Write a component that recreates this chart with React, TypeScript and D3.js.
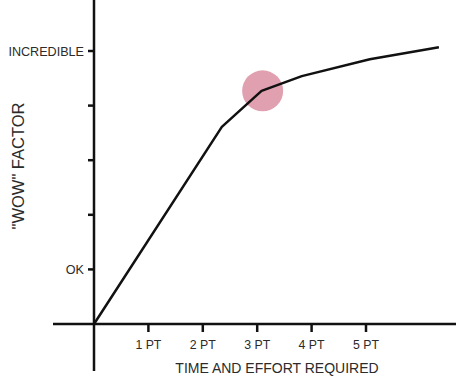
import React from "react";
import * as d3 from "d3";

const xTickValues = [1, 2, 3, 4, 5];
const xTickLabels = ["1 PT", "2 PT", "3 PT", "4 PT", "5 PT"];
const yTickValues = [1, 2, 3, 4, 5];
const yTickLabels = ["OK", "", "", "", "INCREDIBLE"];
const curveX = [0, 2.35, 3.08, 3.82, 5.07, 6.34];
const curveY = [0, 3.61, 4.27, 4.54, 4.85, 5.07];
const highlight = { x: 3.1, y: 4.27 };

const W = 456;
const H = 381;
const FONT = "'Liberation Sans', Arial, Helvetica, sans-serif";
const TEXT = "#2b2b2b";

export default function App() {
  const x = d3.scaleLinear().domain([0, 5]).range([94, 366]);
  const y = d3.scaleLinear().domain([0, 5]).range([324, 51]);
  const pts: [number, number][] = curveX.map((v, i) => [v, curveY[i]]);
  const line = d3
    .line<[number, number]>()
    .x((d) => x(d[0]))
    .y((d) => y(d[1]));

  return (
    <svg
      width={W}
      height={H}
      style={{ position: "absolute", left: 0, top: 0, background: "#fff" }}
      fontFamily={FONT}
    >
      <rect x={0} y={0} width={W} height={H} fill="#fff" />
      {/* highlight circle */}
      <circle cx={x(highlight.x)} cy={y(highlight.y)} r={20.5} fill="#e0a0b0" />
      {/* axes */}
      <line x1={x(0)} x2={x(0)} y1={0} y2={371} stroke="#111" strokeWidth={2.5} />
      <line x1={53} x2={W} y1={y(0)} y2={y(0)} stroke="#111" strokeWidth={2.5} />
      {/* y ticks */}
      {yTickValues.map((v, i) => (
        <g key={"y" + v}>
          <line x1={x(0) - 6} x2={x(0)} y1={y(v)} y2={y(v)} stroke="#111" strokeWidth={2.5} />
          {yTickLabels[i] && (
            <text
              x={x(0) - 10}
              y={y(v)}
              dy="0.36em"
              textAnchor="end"
              fontSize={12.6}
              fill={TEXT}
            >
              {yTickLabels[i]}
            </text>
          )}
        </g>
      ))}
      {/* x ticks */}
      {xTickValues.map((v, i) => (
        <g key={"x" + v}>
          <line x1={x(v)} x2={x(v)} y1={y(0)} y2={y(0) + 8} stroke="#111" strokeWidth={2.5} />
          <text x={x(v)} y={349} textAnchor="middle" fontSize={12.3} fill={TEXT}>
            {xTickLabels[i]}
          </text>
        </g>
      ))}
      {/* axis titles */}
      <text x={277} y={373} textAnchor="middle" fontSize={14} fill={TEXT}>
        TIME AND EFFORT REQUIRED
      </text>
      <text
        transform={`translate(24,166) rotate(-90)`}
        textAnchor="middle"
        fontSize={16.5}
        fill={TEXT}
      >
        "WOW" FACTOR
      </text>
      {/* curve */}
      <path d={line(pts) || ""} fill="none" stroke="#111" strokeWidth={2.5} strokeLinejoin="round" />
    </svg>
  );
}
